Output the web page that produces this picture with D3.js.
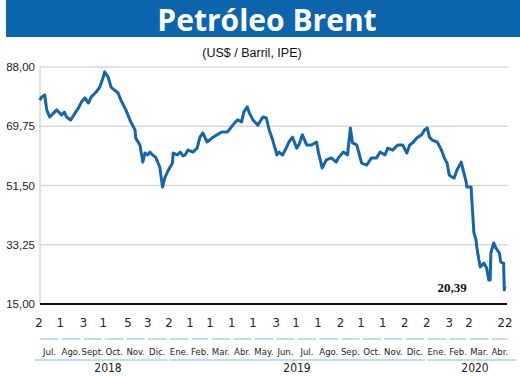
<!DOCTYPE html>
<html>
<head>
<meta charset="utf-8">
<script src="https://cdn.jsdelivr.net/npm/d3@7"></script>
<style>
  body { margin: 0; background: #fff; }
  svg { display: block; }
  .cond { font-family: "Liberation Sans Narrow", "DejaVu Sans Condensed", "Roboto Condensed", sans-serif; }
</style>
</head>
<body>
<svg id="chart" width="520" height="376"></svg>
<script>
// Brent price, US$ per barrel
var dates = [
  "2018-07-03","2018-07-06","2018-07-10","2018-07-13","2018-07-17","2018-07-20","2018-07-27",
  "2018-08-03","2018-08-07","2018-08-10","2018-08-16","2018-08-22","2018-08-27","2018-08-31",
  "2018-09-05","2018-09-10","2018-09-14","2018-09-21","2018-09-26","2018-10-01","2018-10-03",
  "2018-10-08","2018-10-12","2018-10-17","2018-10-22","2018-10-26","2018-11-02","2018-11-09",
  "2018-11-15","2018-11-16","2018-11-22","2018-11-26","2018-11-29","2018-12-03","2018-12-06",
  "2018-12-10","2018-12-14","2018-12-20","2018-12-24","2018-12-27","2018-12-31",
  "2019-01-07","2019-01-08","2019-01-14","2019-01-18","2019-01-22","2019-01-25","2019-01-29",
  "2019-02-05","2019-02-11","2019-02-15","2019-02-19","2019-02-25","2019-03-04","2019-03-11",
  "2019-03-18","2019-03-26","2019-04-05","2019-04-09","2019-04-15","2019-04-18","2019-04-23",
  "2019-04-26","2019-05-01","2019-05-08","2019-05-15","2019-05-20","2019-05-24","2019-05-29",
  "2019-06-04","2019-06-07","2019-06-12","2019-06-18","2019-06-21","2019-06-26","2019-07-02",
  "2019-07-05","2019-07-10","2019-07-16","2019-07-23","2019-07-30","2019-08-02","2019-08-07",
  "2019-08-13","2019-08-20","2019-08-27","2019-08-30","2019-09-06","2019-09-12","2019-09-16",
  "2019-09-19","2019-09-25","2019-10-02","2019-10-09","2019-10-16","2019-10-23","2019-10-28",
  "2019-11-04","2019-11-08","2019-11-15","2019-11-22","2019-11-29","2019-12-05","2019-12-09",
  "2019-12-13","2019-12-19","2019-12-26","2019-12-30",
  "2020-01-03","2020-01-06","2020-01-10","2020-01-17","2020-01-23","2020-01-27","2020-01-31",
  "2020-02-03","2020-02-07","2020-02-10","2020-02-14","2020-02-20","2020-02-21","2020-02-27",
  "2020-02-28","2020-03-05","2020-03-06","2020-03-09","2020-03-12","2020-03-13","2020-03-16",
  "2020-03-18","2020-03-23","2020-03-27","2020-03-30","2020-04-01","2020-04-02","2020-04-06",
  "2020-04-09","2020-04-14","2020-04-16","2020-04-20","2020-04-21","2020-04-22"
];
var prices = [
  77.8,78.8,79.4,74.8,72.6,73.2,74.8,
  73.2,74.1,72.6,71.7,73.8,75.4,77.2,
  78.5,76.9,78.8,80.3,81.8,84.9,86.5,
  84.9,81.8,80.9,80.0,77.8,74.8,71.1,
  68.6,66.1,64.0,58.7,61.5,60.9,61.8,
  60.9,60.3,57.2,51.0,53.8,55.7,
  58.4,61.5,60.9,61.8,60.6,60.9,62.4,
  61.8,63.0,66.4,67.7,64.9,66.1,67.1,
  68.0,68.0,70.8,71.7,71.1,74.1,75.7,
  73.8,71.7,70.1,72.6,72.3,68.6,65.5,
  60.9,61.8,60.9,63.4,64.9,66.4,63.0,
  64.0,67.1,64.0,64.0,64.9,61.5,56.9,
  59.4,60.0,58.7,60.0,61.8,60.9,69.2,
  64.6,64.0,58.4,57.8,60.0,60.0,61.8,
  60.9,63.0,62.4,64.0,64.0,61.5,64.0,
  64.6,66.1,67.1,68.6,
  69.2,66.4,65.5,64.9,62.4,60.0,58.4,
  54.7,54.1,53.8,56.3,58.7,57.8,52.6,
  51.0,51.0,47.0,36.9,34.7,32.6,28.6,
  26.4,27.6,26.1,22.4,22.4,30.7,33.8,
  32.3,30.7,27.9,27.6,19.3,20.39
];

var yTicks = [15, 33.25, 51.5, 69.75, 88];
var tickDates = ["2018-07-02","2018-08-01","2018-09-03","2018-10-01","2018-11-05","2018-12-03",
  "2019-01-02","2019-02-01","2019-03-01","2019-04-01","2019-05-01","2019-06-03","2019-07-01",
  "2019-08-01","2019-09-02","2019-10-01","2019-11-01","2019-12-02","2020-01-02","2020-02-03",
  "2020-03-02","2020-04-22"];
var monthStarts = ["2018-07-02","2018-08-01","2018-09-01","2018-10-01","2018-11-01","2018-12-01",
  "2019-01-01","2019-02-01","2019-03-01","2019-04-01","2019-05-01","2019-06-01","2019-07-01",
  "2019-08-01","2019-09-01","2019-10-01","2019-11-01","2019-12-01","2020-01-01","2020-02-01",
  "2020-03-01","2020-04-01","2020-04-28"];
var monthNames = ["Jul.","Ago.","Sept.","Oct.","Nov.","Dic.","Ene.","Feb.","Mar.","Abr.","May.",
  "Jun.","Jul.","Ago.","Sep.","Oct.","Nov.","Dic.","Ene.","Feb.","Mar.","Abr."];
var years = ["2018","2019","2020"];
var yearSpans = [["2018-06-25","2018-12-31"],["2019-01-02","2019-12-31"],["2020-01-03","2020-05-08"]];
var lastLabel = "20,39";

var parse = d3.timeParse("%Y-%m-%d");
var data = dates.map(function (d, i) { return { date: parse(d), value: prices[i] }; });

var svg = d3.select("#chart");
var blue = "#0c64ac";

var x = d3.scaleTime()
    .domain([parse("2018-07-02"), parse("2020-04-22")])
    .range([39, 505]);
var y = d3.scaleLinear().domain([15, 88]).range([304, 67]);
var fmt = function (v) { return d3.format(".2f")(v).replace(".", ","); };

// title bar
svg.append("rect")
    .attr("x", 6).attr("y", 0)
    .attr("width", 514).attr("height", 37)
    .attr("fill", blue);
svg.append("text")
    .attr("x", 267).attr("y", 31)
    .attr("text-anchor", "middle")
    .attr("fill", "#fff")
    .attr("font-family", "'Open Sans', sans-serif")
    .attr("font-weight", "bold")
    .attr("font-size", 30)
    .text("Petróleo Brent");
svg.append("text")
    .attr("x", 252).attr("y", 57)
    .attr("text-anchor", "middle")
    .attr("fill", "#111")
    .attr("font-family", "'Liberation Sans', sans-serif")
    .attr("font-size", 12.5)
    .text("(US$ / Barril, IPE)");

// grid
svg.append("g").selectAll("line")
    .data(yTicks.slice(1))
    .join("line")
    .attr("x1", 40).attr("x2", 508)
    .attr("y1", function (d) { return y(d); })
    .attr("y2", function (d) { return y(d); })
    .attr("stroke", "#d9d9d9")
    .attr("stroke-width", 1.5);
svg.append("line")
    .attr("x1", 40).attr("x2", 40)
    .attr("y1", y(88)).attr("y2", y(15))
    .attr("stroke", "#d9d9d9")
    .attr("stroke-width", 1.5);

svg.append("g").selectAll("text")
    .data(yTicks)
    .join("text")
    .attr("x", 35)
    .attr("y", function (d) { return y(d) + 4; })
    .attr("text-anchor", "end")
    .attr("font-family", "'Liberation Sans', sans-serif")
    .attr("font-size", 11.5)
    .attr("fill", "#222")
    .text(fmt);

// price line
var line = d3.line()
    .x(function (d) { return x(d.date); })
    .y(function (d) { return y(d.value); });
svg.append("path")
    .datum(data)
    .attr("d", line)
    .attr("fill", "none")
    .attr("stroke", "#1565ad")
    .attr("stroke-width", 3)
    .attr("stroke-linejoin", "round");

// baseline
svg.append("line")
    .attr("x1", 40).attr("x2", 507)
    .attr("y1", y(15)).attr("y2", y(15))
    .attr("stroke", "#111")
    .attr("stroke-width", 2);

svg.append("text")
    .attr("x", 452).attr("y", 292)
    .attr("text-anchor", "middle")
    .attr("font-family", "'Liberation Serif', serif")
    .attr("font-weight", "bold")
    .attr("font-size", 13)
    .attr("fill", "#111")
    .text(lastLabel);

// x axis: day numbers
svg.append("g").attr("class", "cond").selectAll("text")
    .data(tickDates)
    .join("text")
    .attr("x", function (d) { return x(parse(d)); })
    .attr("y", 327)
    .attr("text-anchor", "middle")
    .attr("font-size", 13)
    .attr("fill", "#222")
    .text(function (d) { return +d.slice(8); });

// month segments and labels
var months = monthNames.map(function (m, i) {
    return { name: m, x0: x(parse(monthStarts[i])), x1: x(parse(monthStarts[i + 1])) };
});
svg.append("g").selectAll("line")
    .data(months)
    .join("line")
    .attr("x1", function (d) { return d.x0 + 1.5; })
    .attr("x2", function (d) { return d.x1 - 1.5; })
    .attr("y1", 339).attr("y2", 339)
    .attr("stroke", "#a9d3e8")
    .attr("stroke-width", 1.5);
svg.append("g").attr("class", "cond").selectAll("text")
    .data(months)
    .join("text")
    .attr("x", function (d) { return (d.x0 + d.x1) / 2; })
    .attr("y", 355)
    .attr("text-anchor", "middle")
    .attr("font-size", 9.5)
    .attr("fill", "#222")
    .text(function (d) { return d.name; });

// years
svg.append("g").selectAll("line")
    .data(yearSpans)
    .join("line")
    .attr("x1", function (d) { return x(parse(d[0])); })
    .attr("x2", function (d) { return x(parse(d[1])); })
    .attr("y1", 360).attr("y2", 360)
    .attr("stroke", "#a9d3e8")
    .attr("stroke-width", 1.5);
svg.append("g").attr("class", "cond").selectAll("text")
    .data(years)
    .join("text")
    .attr("x", function (d, i) { return i == 0 ? 108 : i == 1 ? 297 : 475; })
    .attr("y", 372)
    .attr("text-anchor", "middle")
    .attr("font-size", 12)
    .attr("fill", "#222")
    .text(function (d) { return d; });
</script>
</body>
</html>
